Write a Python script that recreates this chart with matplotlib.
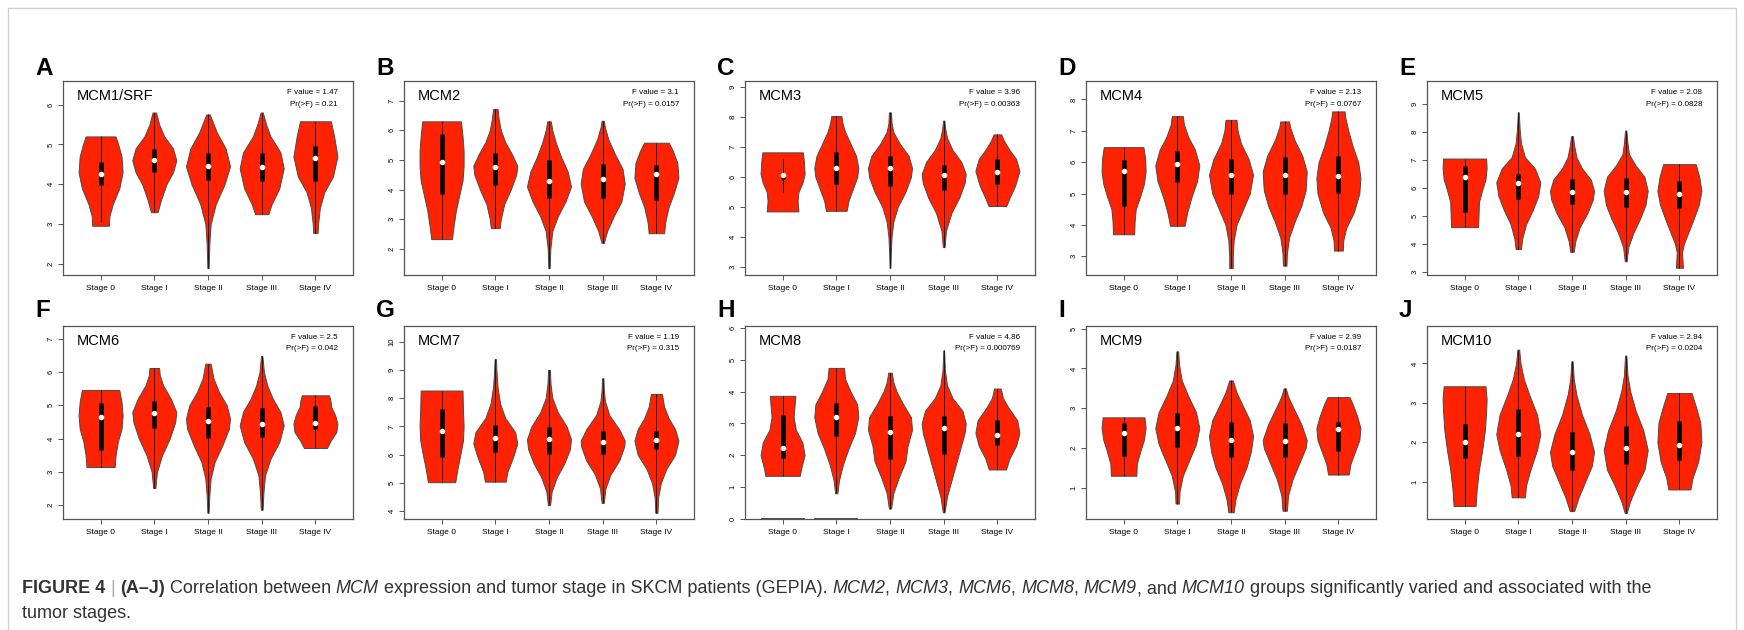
import matplotlib
matplotlib.use("Agg")
from matplotlib import pyplot as plt
from matplotlib.patches import Rectangle

plt.rcParams['font.family'] = ['Liberation Sans', 'DejaVu Sans']

stages = ["Stage 0", "Stage I", "Stage II", "Stage III", "Stage IV"]
letters = list("ABCDEFGHIJ")
genes = ["MCM1/SRF", "MCM2", "MCM3", "MCM4", "MCM5", "MCM6", "MCM7", "MCM8", "MCM9", "MCM10"]
f_values = ["1.47", "3.1", "3.96", "2.13", "2.08", "2.5", "1.19", "4.86", "2.99", "2.94"]
p_values = ["0.21", "0.0157", "0.00363", "0.0767", "0.0828", "0.042", "0.315", "0.000769", "0.0187", "0.0204"]

y_limits = [(1.725, 6.59), (1.12, 7.66), (2.73, 9.2), (2.4, 8.59), (2.89, 9.82),
            (1.59, 7.38), (3.73, 10.55), (-0.01, 6.07), (0.21, 5.07), (0.05, 4.95)]
y_ticks = [range(2, 7), range(2, 8), range(3, 10), range(3, 9), range(3, 10),
           range(2, 8), range(4, 11), range(0, 7), range(1, 6), range(1, 5)]

medians = [[4.27, 4.62, 4.46, 4.44, 4.67],
           [4.94, 4.76, 4.30, 4.34, 4.53],
           [6.08, 6.29, 6.31, 6.08, 6.18],
           [5.71, 5.94, 5.59, 5.60, 5.56],
           [6.40, 6.18, 5.87, 5.87, 5.77],
           [4.64, 4.76, 4.54, 4.45, 4.47],
           [6.85, 6.58, 6.54, 6.44, 6.51],
           [2.24, 3.20, 2.72, 2.86, 2.64],
           [2.38, 2.51, 2.20, 2.18, 2.48],
           [2.00, 2.20, 1.75, 1.85, 1.92]]
q1 = [[3.97, 4.31, 4.10, 4.07, 4.07],
      [3.86, 4.17, 3.72, 3.70, 3.64],
      [5.92, 5.75, 5.70, 5.56, 5.75],
      [4.60, 5.38, 5.00, 5.00, 5.02],
      [5.15, 5.61, 5.42, 5.33, 5.30],
      [3.65, 4.33, 4.03, 4.05, 4.28],
      [5.93, 6.11, 6.01, 6.01, 6.19],
      [1.90, 2.59, 1.89, 2.03, 2.32],
      [1.80, 2.03, 1.78, 1.76, 1.91],
      [1.60, 1.65, 1.30, 1.45, 1.55]]
q3 = [[4.55, 4.88, 4.78, 4.79, 4.96],
      [5.86, 5.22, 4.99, 4.87, 4.82],
      [6.14, 6.82, 6.70, 6.39, 6.61],
      [6.07, 6.37, 6.10, 6.15, 6.21],
      [6.78, 6.50, 6.32, 6.36, 6.25],
      [5.06, 5.14, 4.96, 4.91, 4.99],
      [7.60, 7.05, 6.99, 6.84, 6.85],
      [3.28, 3.63, 3.23, 3.25, 3.10],
      [2.64, 2.87, 2.66, 2.62, 2.66],
      [2.45, 2.85, 2.25, 2.40, 2.55]]

# whiskers shorter than the violin (gene index, stage index) -> (low, high)
short_whiskers = {(0, 0): (3.05, 5.2), (2, 0): (5.5, 6.6)}
# MCM8: samples sitting at 0 for Stage 0 and Stage I
zero_stages_mcm8 = [0, 1]

# violin outlines: (expression, relative half width)
shape_mcm1 = [
    [(2.96, .38), (3.2, .4), (3.5, .55), (3.9, .85), (4.3, 1), (4.7, .95), (5.0, .8), (5.2, .68)],
    [(3.3, .15), (3.6, .3), (4.0, .55), (4.3, .85), (4.6, 1), (4.9, .85), (5.2, .45), (5.5, .22), (5.8, .08)],
    [(1.9, .03), (2.5, .06), (3.0, .12), (3.5, .35), (4.0, .75), (4.45, 1), (4.9, .8), (5.3, .4), (5.75, .08)],
    [(3.25, .3), (3.5, .45), (3.9, .8), (4.4, 1), (4.8, .85), (5.2, .4), (5.5, .2), (5.8, .05)],
    [(2.78, .1), (3.0, .12), (3.4, .2), (3.8, .4), (4.2, .8), (4.7, 1), (5.2, .85), (5.58, .7)]]
shape_mcm2 = [
    [(2.33, .47), (2.8, .55), (3.3, .65), (3.8, .8), (4.3, .95), (4.8, 1), (5.3, 1), (5.8, .95), (6.3, .88)],
    [(2.7, .2), (3.0, .25), (3.5, .4), (4.0, .7), (4.5, .95), (4.8, 1), (5.2, .75), (5.6, .45), (6.0, .25), (6.4, .15), (6.72, .1)],
    [(1.35, .03), (2.0, .06), (2.6, .15), (3.1, .4), (3.6, .75), (4.1, 1), (4.6, .85), (5.1, .55), (5.6, .3), (6.0, .15), (6.3, .08)],
    [(2.2, .05), (2.6, .2), (3.1, .5), (3.6, .85), (4.2, 1), (4.7, .9), (5.2, .55), (5.7, .25), (6.1, .1), (6.32, .05)],
    [(2.53, .35), (2.9, .4), (3.4, .55), (3.9, .8), (4.4, 1), (4.9, .95), (5.3, .75), (5.58, .56)]]
shape_mcm3 = [
    [(4.85, .72), (5.2, .68), (5.5, .72), (5.8, .9), (6.1, 1), (6.5, .97), (6.82, .92)],
    [(4.87, .47), (5.2, .55), (5.6, .75), (6.0, .95), (6.3, 1), (6.7, .9), (7.1, .65), (7.5, .4), (7.8, .28), (8.03, .23)],
    [(2.97, .02), (3.5, .04), (4.0, .07), (4.5, .15), (5.0, .35), (5.5, .7), (6.0, .95), (6.3, 1), (6.7, .85), (7.1, .45), (7.5, .15), (7.8, .07), (8.15, .05)],
    [(3.66, .04), (4.2, .1), (4.8, .35), (5.3, .7), (5.8, .95), (6.1, 1), (6.5, .8), (6.9, .4), (7.3, .15), (7.6, .07), (7.88, .03)],
    [(5.03, .4), (5.3, .55), (5.7, .8), (6.2, 1), (6.6, .85), (6.9, .55), (7.2, .3), (7.42, .17)]]
shape_mcm4 = [
    [(3.7, .48), (4.1, .5), (4.5, .55), (4.9, .75), (5.3, .92), (5.7, 1), (6.1, .98), (6.48, .9)],
    [(3.97, .33), (4.4, .45), (4.9, .65), (5.4, .9), (5.9, 1), (6.4, .8), (6.8, .5), (7.2, .3), (7.47, .25)],
    [(2.62, .08), (3.0, .08), (3.5, .12), (4.0, .25), (4.5, .55), (5.0, .85), (5.6, 1), (6.1, .8), (6.6, .45), (7.0, .3), (7.35, .25)],
    [(2.7, .08), (3.1, .1), (3.6, .2), (4.1, .45), (4.6, .75), (5.1, .95), (5.7, 1), (6.2, .8), (6.7, .45), (7.1, .25), (7.3, .2)],
    [(3.18, .2), (3.5, .22), (3.9, .35), (4.4, .7), (5.0, .95), (5.5, 1), (6.0, .9), (6.5, .65), (7.0, .45), (7.4, .32), (7.62, .28)]]
shape_mcm5 = [
    [(4.6, .58), (5.0, .6), (5.5, .62), (5.9, .75), (6.3, .9), (6.7, .95), (7.05, .93)],
    [(3.82, .12), (4.2, .18), (4.7, .35), (5.2, .65), (5.7, .9), (6.2, 1), (6.7, .75), (7.1, .3), (7.6, .12), (8.1, .06), (8.7, .02)],
    [(3.72, .08), (4.1, .15), (4.6, .35), (5.1, .7), (5.6, .95), (5.9, 1), (6.3, .85), (6.7, .45), (7.1, .2), (7.5, .1), (7.85, .04)],
    [(3.38, .04), (3.9, .12), (4.4, .35), (4.9, .65), (5.4, .9), (5.9, 1), (6.4, .85), (6.8, .45), (7.2, .15), (7.6, .08), (8.05, .03)],
    [(3.15, .16), (3.4, .14), (3.7, .12), (4.0, .2), (4.4, .4), (4.9, .65), (5.4, .88), (5.9, 1), (6.4, .9), (6.85, .74)]]
shape_mcm6 = [
    [(3.15, .64), (3.5, .68), (3.9, .78), (4.3, .95), (4.7, 1), (5.1, .95), (5.46, .85)],
    [(2.52, .05), (3.0, .12), (3.5, .35), (4.0, .7), (4.5, .95), (4.8, 1), (5.2, .75), (5.6, .4), (5.9, .25), (6.12, .22)],
    [(1.78, .03), (2.3, .06), (2.8, .12), (3.3, .3), (3.8, .65), (4.3, .95), (4.6, 1), (5.0, .85), (5.4, .5), (5.8, .25), (6.25, .12)],
    [(1.87, .04), (2.4, .08), (2.9, .15), (3.4, .4), (3.9, .8), (4.4, 1), (4.8, .85), (5.2, .5), (5.6, .25), (6.0, .1), (6.48, .03)],
    [(3.72, .52), (3.95, .7), (4.2, .95), (4.45, 1), (4.7, .9), (4.95, .72), (5.15, .68), (5.3, .62)]]
shape_mcm7 = [
    [(5.03, .62), (5.5, .72), (6.0, .85), (6.5, .97), (7.0, 1), (7.6, .97), (8.27, .95)],
    [(5.05, .47), (5.4, .55), (5.9, .8), (6.4, 1), (6.8, .9), (7.3, .45), (7.8, .22), (8.4, .1), (9.0, .05), (9.38, .03)],
    [(4.22, .05), (4.7, .12), (5.2, .35), (5.7, .7), (6.2, .95), (6.55, 1), (7.0, .8), (7.5, .4), (8.0, .15), (8.5, .07), (9.0, .04)],
    [(4.3, .05), (4.8, .12), (5.3, .35), (5.8, .75), (6.3, .98), (6.5, 1), (6.9, .75), (7.4, .3), (7.9, .1), (8.3, .05), (8.7, .03)],
    [(3.95, .05), (4.5, .08), (5.0, .2), (5.5, .45), (6.0, .85), (6.5, 1), (6.9, .85), (7.3, .55), (7.7, .35), (8.15, .25)]]
shape_mcm8 = [
    [(1.35, .78), (1.6, .85), (2.0, 1), (2.4, .9), (2.8, .6), (3.2, .5), (3.6, .55), (3.87, .58)],
    [(0.8, .05), (1.2, .12), (1.7, .3), (2.2, .55), (2.7, .85), (3.2, 1), (3.6, .95), (4.0, .65), (4.4, .4), (4.75, .35)],
    [(0.32, .05), (0.8, .15), (1.3, .4), (1.8, .7), (2.3, .8), (2.8, 1), (3.2, .95), (3.6, .6), (4.0, .3), (4.3, .15), (4.6, .08)],
    [(0.2, .04), (0.7, .15), (1.2, .35), (1.7, .55), (2.2, .75), (2.7, .95), (3.0, 1), (3.4, .85), (3.8, .4), (4.2, .15), (4.7, .05), (5.3, .02)],
    [(1.55, .39), (1.9, .55), (2.3, .85), (2.7, 1), (3.1, .9), (3.5, .5), (3.8, .25), (4.1, .15)]]
shape_mcm9 = [
    [(1.3, .58), (1.6, .6), (1.9, .75), (2.2, .92), (2.5, 1), (2.77, .95)],
    [(0.6, .08), (0.9, .1), (1.3, .25), (1.7, .55), (2.1, .85), (2.5, 1), (2.9, .85), (3.3, .5), (3.7, .2), (4.1, .08), (4.43, .04)],
    [(0.38, .12), (0.7, .2), (1.1, .4), (1.5, .7), (1.9, .9), (2.3, 1), (2.7, .85), (3.1, .5), (3.4, .25), (3.7, .08)],
    [(0.42, .1), (0.8, .15), (1.2, .35), (1.6, .65), (2.0, .95), (2.2, 1), (2.6, .75), (3.0, .4), (3.3, .15), (3.5, .05)],
    [(1.33, .47), (1.6, .55), (1.9, .75), (2.2, .95), (2.5, 1), (2.8, .85), (3.1, .65), (3.28, .5)]]
shape_mcm10 = [
    [(0.38, .5), (0.8, .55), (1.3, .65), (1.8, .8), (2.3, .92), (2.8, .98), (3.1, 1), (3.42, .95)],
    [(0.6, .3), (0.9, .35), (1.3, .55), (1.8, .85), (2.2, 1), (2.7, .85), (3.2, .5), (3.6, .25), (4.0, .1), (4.35, .04)],
    [(0.25, .1), (0.6, .3), (1.0, .6), (1.4, .9), (1.75, 1), (2.2, .8), (2.7, .45), (3.2, .2), (3.6, .08), (4.05, .03)],
    [(0.2, .04), (0.5, .2), (0.9, .5), (1.3, .85), (1.8, 1), (2.3, .8), (2.8, .45), (3.3, .2), (3.7, .08), (4.2, .03)],
    [(0.8, .5), (1.1, .6), (1.5, .85), (2.0, 1), (2.5, .95), (2.9, .75), (3.25, .55)]]
shapes = [shape_mcm1, shape_mcm2, shape_mcm3, shape_mcm4, shape_mcm5,
          shape_mcm6, shape_mcm7, shape_mcm8, shape_mcm9, shape_mcm10]

W, H = 1744, 630
fig = plt.figure(figsize=(W / 100, H / 100), dpi=100)

# light frame round the whole figure, open at the bottom edge
fig.patches.append(Rectangle((8 / W, -0.05), (1736 - 8) / W, 1.05 - 8 / H, transform=fig.transFigure,
                             fill=False, ec='#cfcfcf', lw=1.0))

lefts = [63, 404, 745, 1086, 1427]
tops = [81, 326]
bottoms = [275, 519]
violin_red = '#ff2200'
spine_col = '#555555'

for k, gene in enumerate(genes):
    row, col = divmod(k, 5)
    left = lefts[col]
    ax = fig.add_axes([left / W, 1 - bottoms[row] / H, 290 / W, (bottoms[row] - tops[row]) / H])
    ax.set_xlim(0.3, 5.7)
    ax.set_ylim(*y_limits[k])

    for i in range(5):
        pos = i + 1
        pts = shapes[k][i]
        ys = [p[0] for p in pts]
        ws = [p[1] for p in pts]
        stats = dict(coords=ys, vals=ws, mean=medians[k][i], median=medians[k][i],
                     min=ys[0], max=ys[-1])
        parts = ax.violin([stats], positions=[pos], widths=0.82, showmeans=False,
                          showextrema=False, showmedians=False)
        for body in parts['bodies']:
            body.set_facecolor(violin_red)
            body.set_edgecolor('#4a4a4a')
            body.set_linewidth(0.7)
            body.set_joinstyle('round')
            body.set_alpha(1)
        lo, hi = short_whiskers.get((k, i), (ys[0], ys[-1]))
        ax.vlines(pos, lo, hi, color='#1a1a1a', lw=0.7, zorder=3)
        ax.vlines(pos, q1[k][i], q3[k][i], color='black', lw=3.3, zorder=4)
        ax.plot(pos, medians[k][i], 'o', color='white', mec='white', ms=3.0, zorder=5)

    if gene == "MCM8":
        for i in zero_stages_mcm8:
            ax.hlines(0, i + 1 - 0.41, i + 1 + 0.41, color='#333333', lw=1.2, zorder=3)

    ax.set_xticks(range(1, 6))
    ax.set_xticklabels(stages)
    ax.set_yticks(list(y_ticks[k]))
    ax.tick_params(axis='x', length=3.5, width=0.7, color=spine_col, labelsize=6, pad=4)
    ax.tick_params(axis='y', length=3.5, width=0.7, color=spine_col, labelsize=5.5, pad=2.5,
                   labelrotation=90)
    for lab in ax.get_yticklabels():
        lab.set_va('center')
    for sp in ax.spines.values():
        sp.set_color(spine_col)
        sp.set_linewidth(0.9)

    ax.text(14 / 290, 1 - 15 / 194, gene, transform=ax.transAxes, fontsize=10.5,
            ha='left', va='center')
    ax.text(1 - 15 / 290, 1 - 12 / 194, "F value = " + f_values[k], transform=ax.transAxes,
            fontsize=5.8, ha='right', va='center')
    ax.text(1 - 15 / 290, 1 - 23 / 194, "Pr(>F) = " + p_values[k], transform=ax.transAxes,
            fontsize=5.8, ha='right', va='center')

    fig.text((left - 28) / W, 1 - (tops[row] - 6 - 3 * (row == 1)) / H, letters[k],
             fontsize=17.5, fontweight='bold', ha='left', va='baseline')

# caption, built piece by piece so bold / italic runs sit inline
cap_col = '#333333'
line1 = [("FIGURE 4", 'bold', 'normal', cap_col), (" ", 'normal', 'normal', cap_col),
         ("|", 'light', 'normal', '#aaaaaa'), (" ", 'normal', 'normal', cap_col),
         ("(A–J)", 'bold', 'normal', cap_col),
         (" Correlation between ", 'normal', 'normal', cap_col), ("MCM", 'normal', 'italic', cap_col),
         (" expression and tumor stage in SKCM patients (GEPIA). ", 'normal', 'normal', cap_col),
         ("MCM2", 'normal', 'italic', cap_col), (", ", 'normal', 'normal', cap_col),
         ("MCM3", 'normal', 'italic', cap_col), (", ", 'normal', 'normal', cap_col),
         ("MCM6", 'normal', 'italic', cap_col), (", ", 'normal', 'normal', cap_col),
         ("MCM8", 'normal', 'italic', cap_col), (", ", 'normal', 'normal', cap_col),
         ("MCM9", 'normal', 'italic', cap_col), (", and ", 'normal', 'normal', cap_col),
         ("MCM10", 'normal', 'italic', cap_col),
         (" groups significantly varied and associated with the", 'normal', 'normal', cap_col)]
line2 = "tumor stages."

renderer = fig.canvas.get_renderer()


def piece_width(s, size, weight, style):
    t = fig.text(0, 0, s + "x", fontsize=size, fontweight=weight, fontstyle=style)
    u = fig.text(0, 0, "x", fontsize=size, fontweight=weight, fontstyle=style)
    w = t.get_window_extent(renderer).width - u.get_window_extent(renderer).width
    t.remove()
    u.remove()
    return w


target = 1653 - 22
base = sum(piece_width(s, 10, wt, st) for s, wt, st, c in line1)
cap_size = 10 * target / base

x = 22
for s, wt, st, c in line1:
    fig.text(x / W, 1 - 593 / H, s, fontsize=cap_size, fontweight=wt, fontstyle=st,
             color=c, ha='left', va='baseline')
    x += piece_width(s, cap_size, wt, st)
fig.text(22 / W, 1 - 618 / H, line2, fontsize=cap_size, color=cap_col, ha='left', va='baseline')

fig.savefig('out.png', dpi=100)
